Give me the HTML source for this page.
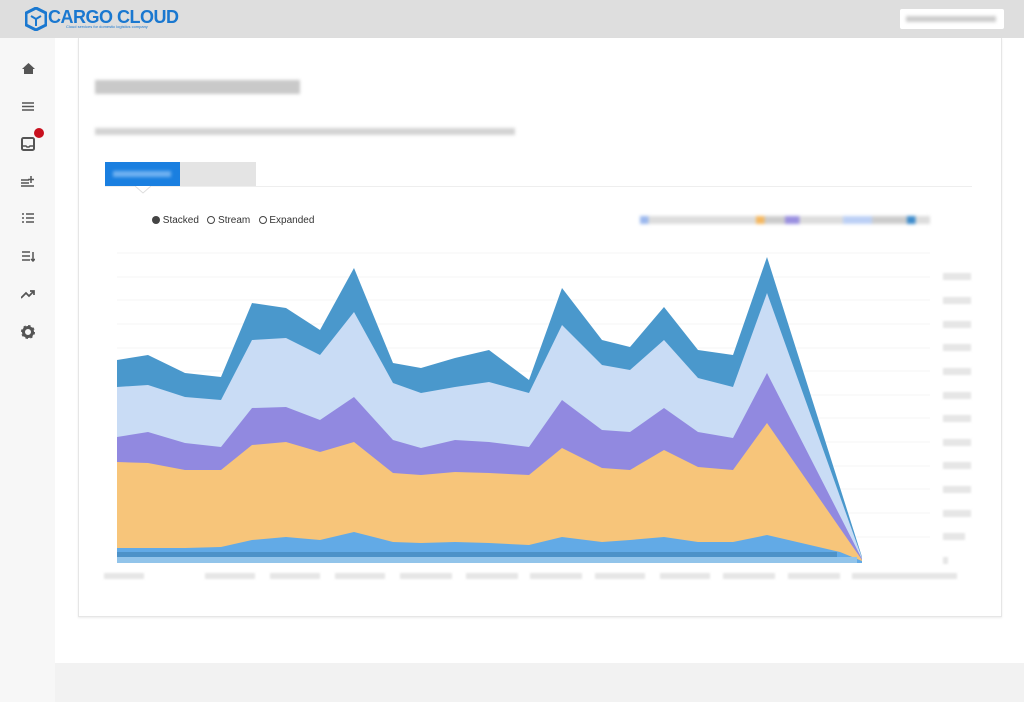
<!DOCTYPE html>
<html><head><meta charset="utf-8"><style>
body{margin:0;width:1024px;height:702px;position:relative;background:#fff;font-family:"Liberation Sans",sans-serif;overflow:hidden}
.hdr{position:absolute;left:0;top:0;width:1024px;height:38px;background:#dedede}
.side{position:absolute;left:0;top:38px;width:55px;height:664px;background:#f7f7f7}
.bot{position:absolute;left:55px;top:663px;width:969px;height:39px;background:#f2f2f2}
.card{position:absolute;left:78px;top:38px;width:922px;height:578px;border:1px solid #e6e6e6;border-top:none;box-shadow:0 1px 2px rgba(0,0,0,.08)}
.blur{position:absolute;background:#ddd;filter:blur(1.5px)}
</style></head><body>
<div class="hdr">
 <svg style="position:absolute;left:25px;top:7px" width="22" height="24"><polygon points="11,1 21,6 21,18 11,23 1,18 1,6" fill="none" stroke="#1a78d0" stroke-width="3"/><path d="M6,9 L11,12 L16,9 M11,12 V19" stroke="#1a78d0" stroke-width="2" fill="none"/></svg>
 <div style="position:absolute;left:48px;top:7px;font-size:18px;font-weight:bold;color:#1a78d0;letter-spacing:-0.5px">CARGO CLOUD</div>
 <div style="position:absolute;left:66px;top:24px;font-size:4px;color:#1a78d0">Cloud services for domestic logistics company</div>
 <div style="position:absolute;left:900px;top:9px;width:104px;height:20px;background:#fff;border-radius:2px"><div class="blur" style="left:6px;top:7px;width:90px;height:6px;background:#ccc"></div></div>
</div>
<div class="side">
 <svg style="position:absolute;left:22px;top:25px" width="13" height="11"><path d="M6.5,0 L13,6 H11 V11 H2 V6 H0Z" fill="#555"/></svg>
 <svg style="position:absolute;left:22px;top:64px" width="12" height="9"><path d="M0,1H12M0,4.5H12M0,8H12" stroke="#555" stroke-width="1.6"/></svg>
 <svg style="position:absolute;left:21px;top:99px" width="14" height="14"><rect x="1" y="1" width="12" height="12" rx="1.5" fill="none" stroke="#555" stroke-width="2"/><path d="M1,9H5L6,10H8L9,9H13" stroke="#555" stroke-width="1.5" fill="none"/></svg>
 <div style="position:absolute;left:34px;top:90px;width:10px;height:10px;border-radius:50%;background:#c8101e"></div>
 <svg style="position:absolute;left:21px;top:138px" width="14" height="11"><path d="M0,4H8M0,7H8M0,10H13M10,0V7M7,3.5H13" stroke="#555" stroke-width="1.5"/></svg>
 <svg style="position:absolute;left:22px;top:175px" width="12" height="10"><path d="M0,1H2M4,1H12M0,5H2M4,5H12M0,9H2M4,9H12" stroke="#555" stroke-width="1.6"/></svg>
 <svg style="position:absolute;left:22px;top:213px" width="13" height="11"><path d="M0,1H8M0,5H8M0,9H8M11,1V10M9,8L11,10L13,8" stroke="#555" stroke-width="1.5" fill="none"/></svg>
 <svg style="position:absolute;left:21px;top:252px" width="14" height="9"><path d="M0,8L5,3L8,6L13,1M9,1H13V5" stroke="#555" stroke-width="1.7" fill="none"/></svg>
 <svg style="position:absolute;left:21px;top:287px" width="14" height="14"><circle cx="7" cy="7" r="4.5" fill="none" stroke="#555" stroke-width="3"/><circle cx="7" cy="7" r="6" fill="none" stroke="#555" stroke-width="2" stroke-dasharray="2.4 2.3"/></svg>
</div>
<div class="bot"></div>
<div class="card"></div>
<div class="blur" style="left:95px;top:80px;width:205px;height:14px;background:#c9c9c9"></div>
<div class="blur" style="left:95px;top:128px;width:420px;height:7px;background:#d3d3d3"></div>
<div style="position:absolute;left:105px;top:162px;width:75px;height:24px;background:#1a7fe0"><div class="blur" style="left:8px;top:9px;width:58px;height:6px;background:#6fb1f0"></div></div>
<div style="position:absolute;left:180px;top:162px;width:76px;height:24px;background:#e4e4e4"></div>
<div style="position:absolute;left:105px;top:186px;width:867px;height:1px;background:#eee"></div>
<svg style="position:absolute;left:135px;top:186px" width="16" height="8"><path d="M0,0L8,7L16,0" fill="#fff" stroke="#ddd"/></svg>
<div style="position:absolute;left:152px;top:215px;font-size:10px;color:#333;line-height:12px">
 <span style="display:inline-block;width:8px;height:8px;border-radius:50%;background:#444;vertical-align:-1px"></span> Stacked&nbsp;&nbsp;
 <span style="display:inline-block;width:6px;height:6px;border-radius:50%;border:1.5px solid #444;vertical-align:-1px"></span> Stream&nbsp;&nbsp;
 <span style="display:inline-block;width:6px;height:6px;border-radius:50%;border:1.5px solid #444;vertical-align:-1px"></span> Expanded
</div>
<div class="blur" style="left:640px;top:216px;width:290px;height:8px;background:linear-gradient(90deg,#9bb8ee 0 3%,#ddd 3% 40%,#f5b860 40% 43%,#ccc 43% 50%,#9a90e0 50% 55%,#ddd 55% 70%,#bcd0f5 70% 80%,#ccc 80% 92%,#3d8ccc 92% 95%,#ddd 95%)"></div>
<svg style="position:absolute;left:0;top:0" width="1024" height="702">
 <defs><filter id="b"><feGaussianBlur stdDeviation="1"/></filter></defs>
 <g stroke="#f6f6f6" stroke-width="1">
  <line x1="117" y1="253" x2="930" y2="253"/><line x1="117" y1="277" x2="930" y2="277"/><line x1="117" y1="300" x2="930" y2="300"/><line x1="117" y1="324" x2="930" y2="324"/><line x1="117" y1="348" x2="930" y2="348"/><line x1="117" y1="371" x2="930" y2="371"/><line x1="117" y1="395" x2="930" y2="395"/><line x1="117" y1="418" x2="930" y2="418"/><line x1="117" y1="442" x2="930" y2="442"/><line x1="117" y1="466" x2="930" y2="466"/><line x1="117" y1="489" x2="930" y2="489"/><line x1="117" y1="513" x2="930" y2="513"/><line x1="117" y1="537" x2="930" y2="537"/>
 </g>
 <polygon fill="#4a98cc" points="117,360 148,355 185,373 221,377 252,303 286,308 320,330 354,268 393,363 421,368 455,358 489,350 529,380 562,288 602,340 630,347 664,307 698,350 733,355 767,257 862,557 862,563 117,563"/>
 <polygon fill="#c9dcf5" points="117,387 148,385 185,397 221,400 252,340 286,338 320,355 354,312 393,383 421,393 455,387 489,382 529,393 562,325 602,365 630,370 664,340 698,378 733,387 767,293 862,558 862,563 117,563"/>
 <polygon fill="#9189e0" points="117,437 148,432 185,443 221,447 252,408 286,407 320,420 354,397 393,440 421,448 455,440 489,442 529,447 562,400 602,430 630,432 664,408 698,432 733,438 767,373 862,559 862,563 117,563"/>
 <polygon fill="#f7c57a" points="117,462 148,463 185,470 221,470 252,445 286,442 320,452 354,442 393,473 421,475 455,472 489,473 529,475 562,448 602,468 630,470 664,450 698,467 733,470 767,423 862,560 862,563 117,563"/>
 <polygon fill="#62aae6" points="117,548 148,548 185,548 221,547 252,540 286,537 320,540 354,532 393,542 421,543 455,542 489,543 529,545 562,537 602,542 630,540 664,537 698,542 733,542 767,535 840,552 862,561 862,563 117,563"/>
 <rect x="117" y="552" width="720" height="5" fill="#4d92c8"/>
 <rect x="117" y="557" width="740" height="6" fill="#92c4ea"/>
 <g fill="#e6e6e6" filter="url(#b)">
  <rect x="943" y="273" width="28" height="7"/><rect x="943" y="297" width="28" height="7"/><rect x="943" y="321" width="28" height="7"/><rect x="943" y="344" width="28" height="7"/><rect x="943" y="368" width="28" height="7"/><rect x="943" y="392" width="28" height="7"/><rect x="943" y="415" width="28" height="7"/><rect x="943" y="439" width="28" height="7"/><rect x="943" y="462" width="28" height="7"/><rect x="943" y="486" width="28" height="7"/><rect x="943" y="510" width="28" height="7"/><rect x="943" y="533" width="22" height="7"/><rect x="943" y="557" width="5" height="7"/>
  <rect x="104" y="573" width="40" height="6"/><rect x="205" y="573" width="50" height="6"/><rect x="270" y="573" width="50" height="6"/><rect x="335" y="573" width="50" height="6"/><rect x="400" y="573" width="52" height="6"/><rect x="466" y="573" width="52" height="6"/><rect x="530" y="573" width="52" height="6"/><rect x="595" y="573" width="50" height="6"/><rect x="660" y="573" width="50" height="6"/><rect x="723" y="573" width="52" height="6"/><rect x="788" y="573" width="52" height="6"/><rect x="852" y="573" width="105" height="6"/>
 </g>
</svg>
</body></html>
